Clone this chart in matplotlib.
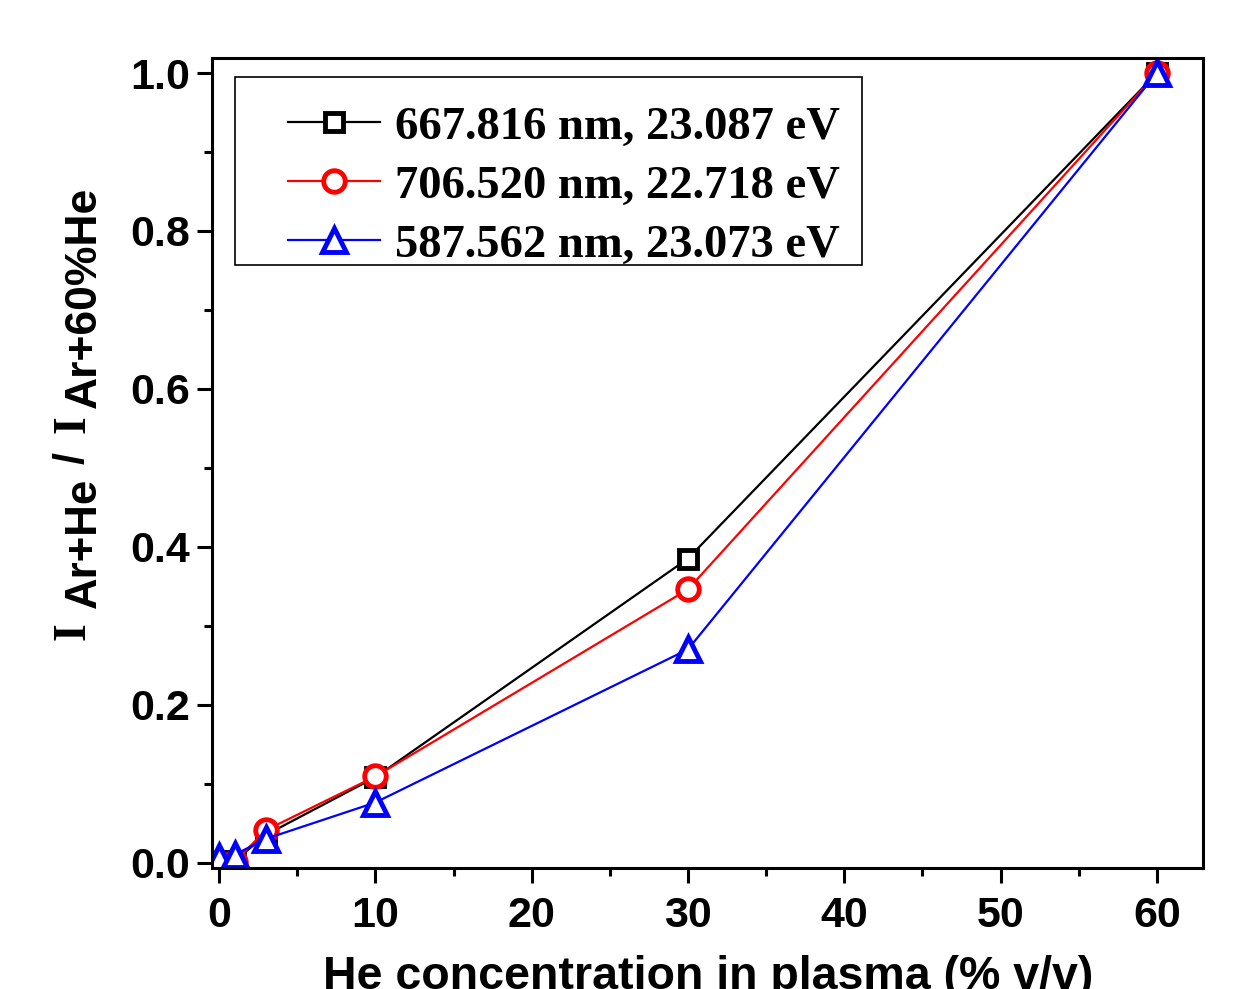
import matplotlib
matplotlib.use('Agg')
import matplotlib.pyplot as plt
from matplotlib.ticker import MultipleLocator, FormatStrFormatter
from matplotlib.patches import Rectangle
from matplotlib.transforms import IdentityTransform

# data
he_conc = [0, 1, 3, 10, 30, 60]
ratio_667 = [0.0, 0.002, 0.035, 0.108, 0.385, 1.0]
ratio_706 = [0.0, 0.001, 0.041, 0.109, 0.346, 1.0]
ratio_587 = [0.007, 0.010, 0.030, 0.076, 0.270, 1.0]
line_labels = ['667.816 nm, 23.087 eV', '706.520 nm, 22.718 eV', '587.562 nm, 23.073 eV']

plt.rcParams['font.family'] = 'Liberation Sans'
plt.rcParams['font.weight'] = 'bold'

fig = plt.figure(figsize=(12.53, 9.89), dpi=100)
ax = fig.add_axes([0.1692, 0.1223, 0.7909, 0.819])

ax.plot(he_conc, ratio_667, color='black', lw=1.6, marker='s', ms=13,
        mfc='white', mew=3.5, label=line_labels[0])
ax.plot(he_conc, ratio_706, color='red', lw=1.6, marker='o', ms=15.5,
        mfc='white', mew=3.5, label=line_labels[1])
ax.plot(he_conc, ratio_587, color='blue', lw=1.6, marker='^', ms=17,
        mfc='white', mew=3.5, label=line_labels[2])

ax.set_xlim(-0.45, 62.95)
ax.set_ylim(-0.007, 1.019)
ax.xaxis.set_major_locator(MultipleLocator(10))
ax.xaxis.set_minor_locator(MultipleLocator(5))
ax.yaxis.set_major_locator(MultipleLocator(0.2))
ax.yaxis.set_minor_locator(MultipleLocator(0.1))
ax.yaxis.set_major_formatter(FormatStrFormatter('%.1f'))
ax.tick_params(which='major', direction='out', length=11, width=2.2, labelsize=31)
ax.tick_params(which='minor', direction='out', length=6, width=2.2)
ax.tick_params(axis='x', which='major', pad=9)
ax.tick_params(axis='y', which='major', pad=5)
for s in ax.spines.values():
    s.set_linewidth(2.2)

ax.set_xlabel('He concentration in plasma (% v/v)', fontsize=33.5, fontweight='bold')
ax.xaxis.set_label_coords(0.5005, -0.107)

# legend without frame, box drawn by hand
leg = ax.legend(loc='upper left', bbox_to_anchor=(0.0767, 0.941), frameon=False,
                borderpad=0, borderaxespad=0, handlelength=1.97, handletextpad=0.32,
                labelspacing=0.35, prop={'family': 'Liberation Serif', 'weight': 'bold', 'size': 33.6})
ax.add_patch(Rectangle((0.0232, 0.7444), 0.6328, 0.2321, transform=ax.transAxes,
                       fill=False, edgecolor='black', lw=1.2, zorder=5))

# y label: I with full-size raised subscripts, placed piece by piece (display px)
pieces = [('I', 'Liberation Serif', 33, 85, 349),
          ('Ar+He', 'Liberation Sans', 31.5, 96, 381),
          ('/', 'Liberation Sans', 31, 84, 525),
          ('I', 'Liberation Serif', 33, 85, 556),
          ('Ar+60%He', 'Liberation Sans', 32, 96, 581)]
for txt, fam, size, x, y in pieces:
    fig.text(x, y, txt, rotation=90, rotation_mode='anchor', ha='left',
             va='baseline', fontsize=size, family=fam, weight='bold',
             transform=IdentityTransform())

fig.savefig('out.png', dpi=100)
